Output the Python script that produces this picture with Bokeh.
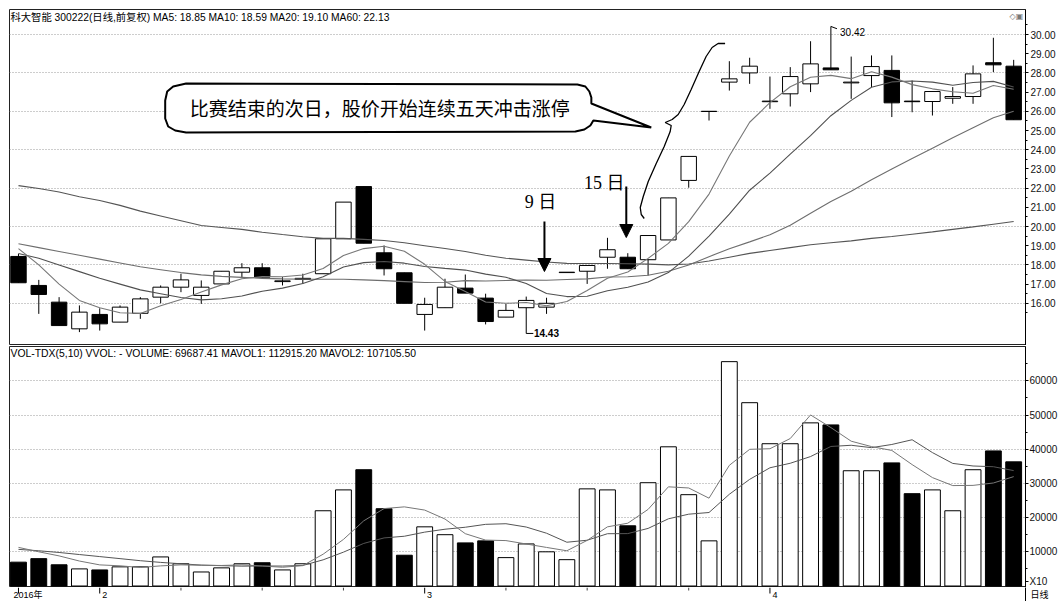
from bokeh.plotting import figure
from bokeh.models import Range1d, FixedTicker, NumeralTickFormatter, ColumnDataSource, Label, Arrow, NormalHead
from bokeh.layouts import column
from bokeh.embed import file_html
from bokeh.resources import INLINE
from bokeh.core.properties import value

# ---------------- data ----------------
open_ = [18.44, 16.93, 16.06, 14.67, 15.42, 15.02, 15.48, 16.32, 16.84, 16.41,
         17.01, 17.62, 17.85, 17.13, 17.24, 17.54, 19.36, 22.08, 18.63, 17.59,
         15.42, 15.77, 16.79, 16.27, 15.28, 15.77, 15.80, 17.60, 17.67, 18.40,
         18.40, 18.27, 19.30, 22.40, 25.99, 27.52, 28.00, 26.50, 26.91, 27.43,
         28.26, 27.48, 27.86, 28.13, 26.53, 26.51, 26.68, 26.77, 28.53, 28.35]
high = [18.58, 17.22, 16.32, 15.89, 15.74, 15.89, 16.32, 16.93, 17.54, 17.19,
        17.67, 18.09, 18.09, 17.36, 17.54, 19.36, 21.27, 22.08, 19.01, 17.59,
        16.29, 17.28, 17.50, 16.50, 15.97, 16.35, 16.29, 17.62, 17.97, 19.41,
        18.61, 19.53, 21.49, 23.65, 26.00, 28.61, 28.79, 27.81, 28.30, 29.65,
        30.42, 28.85, 28.91, 28.91, 27.60, 27.03, 27.26, 28.39, 29.83, 28.68]
low = [17.07, 15.45, 14.84, 14.50, 14.58, 15.02, 15.19, 16.00, 16.58, 15.97,
       17.01, 17.33, 17.36, 16.93, 17.01, 17.54, 19.36, 19.13, 17.45, 16.00,
       14.58, 15.77, 16.53, 14.90, 15.28, 14.43, 15.45, 17.60, 17.01, 17.80,
       17.80, 17.45, 19.30, 22.02, 25.52, 27.08, 27.43, 26.13, 26.25, 27.00,
       28.16, 26.65, 27.26, 25.70, 25.95, 25.78, 26.39, 26.39, 28.04, 25.56]
close = [17.07, 16.46, 14.84, 15.54, 14.93, 15.80, 16.23, 16.84, 17.22, 16.84,
         17.67, 17.85, 17.36, 17.17, 17.30, 19.36, 21.27, 19.13, 17.80, 16.00,
         15.94, 16.84, 16.53, 15.05, 15.63, 16.15, 16.00, 17.62, 17.97, 18.79,
         17.80, 19.53, 21.49, 23.65, 26.00, 27.69, 28.35, 26.53, 27.81, 28.47,
         28.16, 27.52, 28.33, 26.44, 26.50, 27.03, 26.77, 27.95, 28.42, 25.56]
volume = [6969, 8000, 6200, 5000, 4700, 5600, 5600, 8500, 6500, 4100,
          5300, 6500, 6800, 4700, 6500, 22000, 28100, 34000, 22600, 9000,
          17300, 15000, 12600, 13200, 8300, 12300, 10000, 7700, 28400, 28100,
          17600, 30200, 40700, 26700, 13200, 65600, 53600, 41600, 41600, 47700,
          47100, 33700, 33700, 36000, 27000, 28100, 22000, 34000, 39500, 36300]
ma5 = [18.85, 18.00, 17.00, 16.15, 15.77, 15.51, 15.47, 15.87, 16.20, 16.59,
       16.96, 17.28, 17.39, 17.38, 17.47, 17.81, 18.49, 18.85, 18.97, 18.71,
       18.03, 17.14, 16.62, 16.07, 16.00, 16.04, 15.87, 16.09, 16.67, 17.30,
       17.63, 18.34, 19.12, 20.25, 21.69, 23.67, 25.43, 26.45, 27.28, 27.77,
       27.87, 27.70, 28.06, 27.78, 27.39, 27.17, 27.02, 26.94, 27.34, 27.15]
ma10 = [18.59, 18.35, 18.00, 17.65, 17.30, 17.00, 16.70, 16.50, 16.30, 16.18,
        16.24, 16.38, 16.63, 16.79, 17.03, 17.38, 17.89, 18.12, 18.18, 18.09,
        17.92, 17.82, 17.73, 17.52, 17.36, 17.03, 16.51, 16.35, 16.37, 16.65,
        16.84, 17.11, 17.60, 18.46, 19.50, 20.65, 21.89, 22.78, 23.77, 24.73,
        25.77, 26.57, 27.25, 27.53, 27.58, 27.52, 27.36, 27.50, 27.56, 27.27]
ma20 = [19.10, 18.90, 18.70, 18.50, 18.30, 18.10, 17.90, 17.75, 17.60, 17.48,
        17.40, 17.35, 17.30, 17.27, 17.25, 17.25, 17.25, 17.22, 17.18, 17.13,
        17.08, 17.10, 17.18, 17.16, 17.19, 17.21, 17.20, 17.24, 17.27, 17.37,
        17.38, 17.46, 17.67, 17.99, 18.43, 18.84, 19.20, 19.57, 20.07, 20.69,
        21.30, 21.84, 22.43, 23.00, 23.54, 24.08, 24.62, 25.14, 25.66, 26.00]
ma60 = [22.13, 21.98, 21.80, 21.55, 21.35, 21.10, 20.80, 20.55, 20.30, 20.05,
        19.95, 19.85, 19.70, 19.58, 19.47, 19.38, 19.38, 19.33, 19.27, 19.15,
        19.00, 18.85, 18.70, 18.50, 18.35, 18.25, 18.15, 18.08, 18.07, 18.07,
        18.06, 18.04, 18.00, 18.05, 18.20, 18.40, 18.60, 18.75, 18.90, 19.05,
        19.15, 19.25, 19.38, 19.48, 19.60, 19.72, 19.85, 19.98, 20.12, 20.26]
mavol5 = [11292, 10000, 8800, 7300, 6174, 5900, 5420, 5880, 6180, 6060,
          6000, 6180, 5840, 5480, 5960, 9300, 13620, 19060, 22640, 23140,
          22200, 19580, 15300, 13420, 13280, 12280, 11280, 10300, 13340, 17300,
          18360, 22400, 29000, 28660, 25680, 35280, 39960, 40140, 43120, 50020,
          46320, 42340, 40760, 39640, 35500, 31700, 29360, 29420, 30120, 31980]
mavol10 = [10711, 10300, 9800, 9200, 8600, 8000, 7400, 6900, 6500, 6117,
           5950, 5800, 5860, 5830, 6010, 7650, 9900, 12450, 14060, 14550,
           15750, 16600, 17180, 18030, 18210, 17240, 15430, 12800, 13380, 15290,
           15320, 16840, 19650, 21000, 21490, 26820, 31180, 34570, 35890, 37850,
           40800, 41150, 40450, 41380, 42760, 39010, 35850, 35090, 34880, 33740]
month_ticks = [0, 4, 20, 37]
month_labels = ["2016年", "2", "3", "4"]
week_ticks = [8, 12, 16, 24, 28, 33]
price_ticks = list(range(16, 31))
price_grid = list(range(16, 31, 2))
vol_ticks = [10000, 20000, 30000, 40000, 50000, 60000]

title_text = "科大智能 300222(日线,前复权) MA5: 18.85 MA10: 18.59 MA20: 19.10 MA60: 22.13"
vol_title = "VOL-TDX(5,10) VVOL: -  VOLUME: 69687.41 MAVOL1: 112915.20 MAVOL2: 107105.50"
bubble_text = "比赛结束的次日，股价开始连续五天冲击涨停"
period_text = "日线"

# ---------------- layout helpers (page pixel -> data, for annotations) ----------------
X0, DX = 18.0, 20.35
def ix(px):
    return (px - X0) / DX
def pv(py):
    return 30.0 - (py - 34.0) / 19.2
def vv(py):
    return (585.5 - py) / 34.2 * 10000.0
def dy(py):
    return 601.0 - py

n = len(close)
idx = list(range(n))
up = [c >= o for o, c in zip(open_, close)]
src = ColumnDataSource(dict(
    x=idx, o=open_, h=high, l=low, c=close, v=volume,
    top=[max(o, c) for o, c in zip(open_, close)],
    bot=[min(o, c) for o, c in zip(open_, close)],
    fill=["white" if u else "black" for u in up],
    ma5=ma5, ma10=ma10, ma20=ma20, ma60=ma60, mv5=mavol5, mv10=mavol10,
))

W = 1060
xr = Range1d(ix(9), ix(1027))
FONT = "Liberation Sans, Noto Sans CJK SC"
CJK = "Noto Sans CJK SC"

# ---------------- price panel ----------------
top = figure(width=W, height=345, x_range=xr, y_range=Range1d(pv(345), pv(9)),
             output_backend="svg", toolbar_location=None, x_axis_location=None,
             y_axis_location="right", min_border_left=9, min_border_right=33,
             min_border_top=9, min_border_bottom=0)
top.background_fill_color = "white"
top.outline_line_color = "#222222"
top.xgrid.visible = False
top.ygrid.ticker = FixedTicker(ticks=price_grid)
top.ygrid.grid_line_color = "#9a9a9a"
top.ygrid.grid_line_dash = "1 2"
ax = top.yaxis[0]
ax.ticker = FixedTicker(ticks=price_ticks, minor_ticks=[t + 0.5 for t in range(15, 31)])
ax.formatter = NumeralTickFormatter(format="0.00")
ax.major_label_text_font = FONT
ax.major_label_text_font_size = "10px"
ax.major_label_text_color = "#111111"
ax.major_label_standoff = 2
ax.major_tick_out = 3
ax.major_tick_in = 0
ax.minor_tick_out = 2
ax.minor_tick_in = 0
ax.axis_line_color = "black"

top.segment(x0="x", y0="h", x1="x", y1="l", source=src, line_color="black", line_width=1)
top.vbar(x="x", top="top", bottom="bot", width=0.76, source=src,
         fill_color="fill", line_color="black", line_width=1)
for col, colr in (("ma60", "#555555"), ("ma20", "#6e6e6e"), ("ma10", "#505050"), ("ma5", "#777777")):
    top.line(x="x", y=col, source=src, line_color=colr, line_width=1.1)

# speech bubble
bubble_px = [(186, 83), (578, 84), (586, 86), (590, 91), (592, 97), (592, 103), (652, 127),
             (594, 120), (591, 125), (585, 129), (576, 131), (186, 132), (175, 130), (168, 126),
             (165, 118), (165, 100), (167, 91), (173, 86), (186, 83)]
top.patch([ix(a) for a, b in bubble_px], [pv(b) for a, b in bubble_px],
          fill_color="white", line_color="black", line_width=2)
top.add_layout(Label(x=ix(380), y=pv(107), text=bubble_text, text_font=CJK,
                     text_font_size="19px", text_align="center", text_baseline="middle",
                     text_color="black"))
# brace
brace_px = [(726, 43), (719, 43), (713, 47), (707, 56), (700, 71), (692, 89), (685, 104),
            (679, 114), (673, 119), (666, 122), (672, 125), (671, 131), (665, 146), (657, 163),
            (649, 181), (644, 196), (641, 207), (642, 214), (645, 218)]
top.line([ix(a) for a, b in brace_px], [pv(b) for a, b in brace_px], line_color="black", line_width=1.3)

# arrows + day labels
for tx, ty, txt, ax0, ay0, ay1 in ((541, 201, "9 日", 545, 221, 271),
                                   (605, 182, "15 日", 627, 186, 237)):
    top.add_layout(Label(x=ix(tx), y=pv(ty), text=txt, text_font="Liberation Serif, Noto Sans CJK SC",
                         text_font_size="18px", text_align="center", text_baseline="middle",
                         text_color="black"))
    top.add_layout(Arrow(end=NormalHead(size=13, fill_color="black", line_color="black"),
                         x_start=ix(ax0), y_start=pv(ay0), x_end=ix(ax0), y_end=pv(ay1),
                         line_width=2, line_color="black"))

# extreme value markers
hi_i = high.index(max(high))
lo_i = low.index(min(low))
top.segment(x0=[hi_i], y0=[high[hi_i]], x1=[hi_i + 0.3], y1=[high[hi_i] - 0.12], line_color="black")
top.add_layout(Label(x=hi_i + 0.45, y=high[hi_i] - 0.3, text="%.2f" % high[hi_i], text_font=FONT,
                     text_font_size="10px", text_baseline="middle", text_color="black"))
top.segment(x0=[lo_i], y0=[low[lo_i]], x1=[lo_i + 0.35], y1=[low[lo_i]], line_color="black")
top.add_layout(Label(x=lo_i + 0.38, y=low[lo_i], text="%.2f" % low[lo_i], text_font=FONT,
                     text_font_size="10px", text_font_style="bold", text_baseline="middle",
                     text_color="black"))

top.add_layout(Label(x=ix(10), y=pv(17), text=title_text, text_font=FONT, text_font_size="10.3px",
                     text_baseline="middle", text_color="black"))
top.add_layout(Label(x=ix(1011), y=pv(16), text="◇▣", text_font="DejaVu Sans", text_font_size="8px",
                     text_baseline="middle", text_color="#777777"))

# ---------------- volume panel ----------------
vol = figure(width=W, height=242, x_range=xr, y_range=Range1d(vv(587), vv(346)),
             output_backend="svg", toolbar_location=None, y_axis_location="right",
             x_axis_location=None,
             min_border_left=9, min_border_right=33, min_border_top=1, min_border_bottom=0)
vol.outline_line_color = "#222222"
vol.xgrid.visible = False
vol.ygrid.ticker = FixedTicker(ticks=vol_ticks)
vol.ygrid.grid_line_color = "#9a9a9a"
vol.ygrid.grid_line_dash = "1 2"
vy = vol.yaxis[0]
x10_pos = round(vv(581))
vy.ticker = FixedTicker(ticks=[x10_pos] + vol_ticks,
                        minor_ticks=[t - 5000 for t in vol_ticks] + [65000])
vy.formatter = NumeralTickFormatter(format="0")
vy.major_label_overrides = {x10_pos: "X10"}
vy.major_label_text_font = FONT
vy.major_label_text_font_size = "10px"
vy.major_label_text_color = "#111111"
vy.major_label_standoff = 1
vy.major_tick_out = 3
vy.major_tick_in = 0
vy.minor_tick_out = 2
vy.minor_tick_in = 0
vy.axis_line_color = "black"

vol.vbar(x="x", top="v", bottom=0, width=0.78, source=src, fill_color="fill",
         line_color="black", line_width=1)
vol.line(x="x", y="mv10", source=src, line_color="#555555", line_width=1)
vol.line(x="x", y="mv5", source=src, line_color="#777777", line_width=1)

vol.add_layout(Label(x=ix(10), y=vv(353), text=vol_title, text_font=FONT, text_font_size="10.4px",
                     text_baseline="middle", text_color="black"))

# ---------------- date strip ----------------
dates = figure(width=W, height=14, x_range=xr, y_range=Range1d(0, 14),
               output_backend="svg", toolbar_location=None, x_axis_location=None,
               y_axis_location="right", min_border_left=9, min_border_right=33,
               min_border_top=0, min_border_bottom=0)
dates.outline_line_color = None
dates.xgrid.visible = False
dates.ygrid.visible = False
da = dates.yaxis[0]
mid = dy(594)
da.ticker = FixedTicker(ticks=[mid])
da.major_label_overrides = {mid: period_text}
da.major_label_text_font = CJK
da.major_label_text_font_size = "9px"
da.major_label_text_color = "black"
da.major_label_standoff = 5
da.major_tick_out = 0
da.major_tick_in = 0
da.minor_tick_out = 0
da.minor_tick_in = 0
da.axis_line_color = "black"
dates.segment(x0=month_ticks, y0=[dy(587)] * len(month_ticks), x1=month_ticks,
              y1=[dy(593)] * len(month_ticks), line_color="black")
dates.segment(x0=week_ticks, y0=[dy(587)] * len(week_ticks), x1=week_ticks,
              y1=[dy(590)] * len(week_ticks), line_color="#444444")
lab_x = [ix(13)] + [t + 0.12 for t in month_ticks[1:]]
dates.text(x=lab_x, y=[dy(594)] * len(month_labels), text=month_labels,
           text_font=value(FONT), text_font_size="9px", text_baseline="middle",
           text_color="black")

page = column(top, vol, dates, spacing=0)
open("out.html", "w").write(file_html(page, INLINE))
